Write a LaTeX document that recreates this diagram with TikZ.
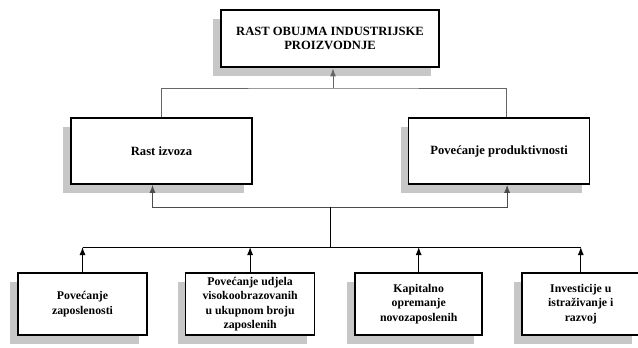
\documentclass[tikz,border=0pt]{standalone}
\usepackage{fontspec}
\setmainfont{Liberation Serif}
\usetikzlibrary{arrows.meta,positioning,shadows}
\tikzset{box/.style={draw, line width=1.6pt, fill=white, align=center,
    font=\bfseries\fontsize{12.6}{14.5}\selectfont, inner sep=2pt,
    drop shadow={shadow xshift=-8pt, shadow yshift=-9pt, fill=black!22, opacity=1}}}
\tikzset{topbox/.style={box, line width=2.8pt, minimum width=218pt, minimum height=57pt}}
\tikzset{midbox/.style={box, minimum width=181pt, minimum height=66pt}}
\tikzset{lowbox/.style={box, minimum width=129pt, minimum height=62pt,
    font=\bfseries\fontsize{11.8}{14.5}\selectfont}}
\tikzset{conn/.style={line width=1pt}}
\tikzset{up/.style={conn, -{Latex[length=8pt,width=6pt]}}}

\begin{document}
\begin{tikzpicture}[x=1pt,y=-1pt]
   \useasboundingbox (0,0) rectangle (638,348);
   \node[topbox] (Rast) at (330,38.5) {RAST OBUJMA INDUSTRIJSKE\\PROIZVODNJE};
   \node[midbox] (Izvoz) at (161.5,151) {Rast izvoza};
   \node[midbox] (Prod) [right=155pt of Izvoz] {Povećanje produktivnosti};
   \node[lowbox] (Zap) at (82.5,304) {Povećanje\\zaposlenosti};
   \node[lowbox] (Udio) [right=37pt of Zap] {Povećanje udjela\\visokoobrazovanih\\u ukupnom broju\\zaposlenih};
   \node[lowbox, minimum width=127pt] (Kap) [right=39pt of Udio] {Kapitalno\\opremanje\\novozaposlenih};
   \node[lowbox, minimum width=118pt] (Inv) [right=38pt of Kap] {Investicije u\\istraživanje i\\razvoj};

   \coordinate (TopJ) at (333,88);
   \coordinate (MidJ) at (330,207);
   \coordinate (Bus) at (330,247);

   % upper level
   \draw[conn, black!60] (Izvoz.north) |- (TopJ) -| ([xshift=7pt]Prod.north);
   \draw[up, black!60] (TopJ) -- (TopJ |- Rast.south);

   % middle level
   \draw[up, black!70] (MidJ) -| ([xshift=-9pt]Izvoz.south);
   \draw[up, black!70] (MidJ) -| ([xshift=8pt]Prod.south);
   \draw[conn] (MidJ) -- (Bus);

   % lower level
   \draw[conn] (Zap.north |- Bus) -- (Inv.north |- Bus);
   \foreach \n in {Zap,Udio,Kap,Inv}
      \draw[up] (\n.north) -- (\n.north |- Bus);
\end{tikzpicture}
\end{document}
